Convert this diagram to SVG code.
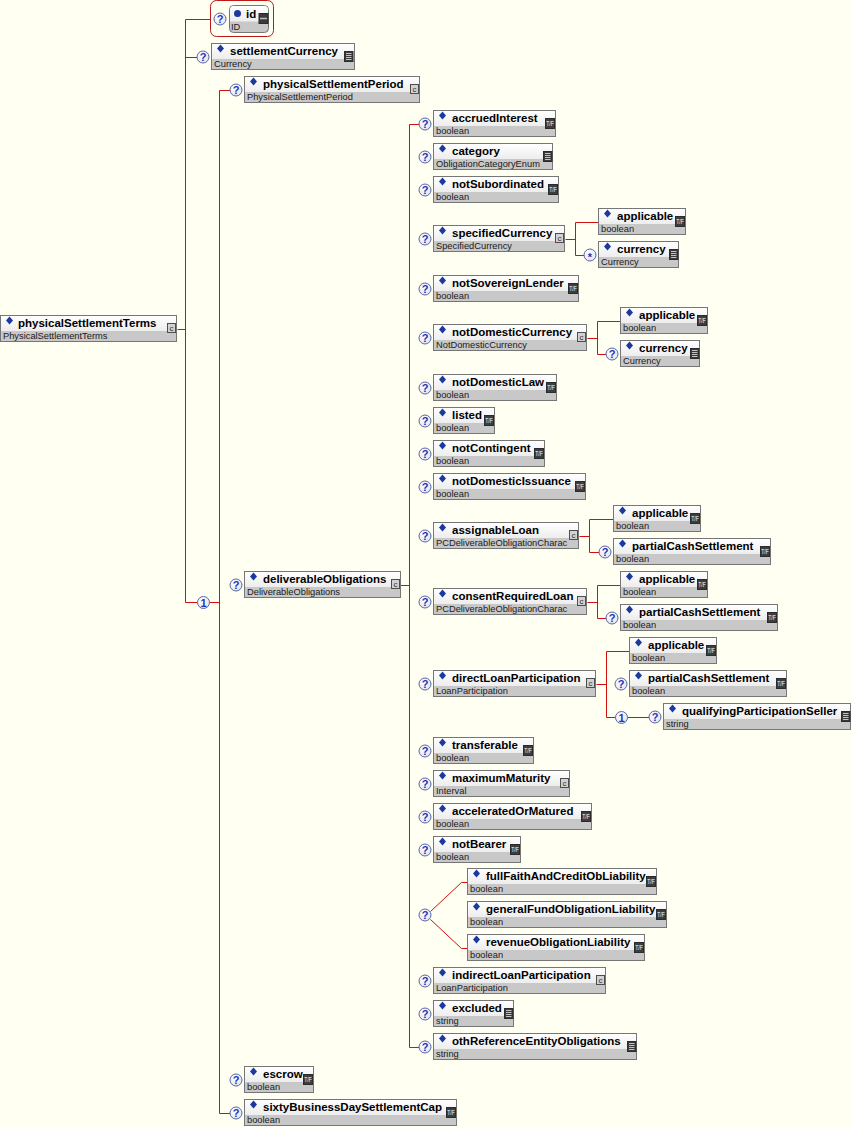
<svg xmlns="http://www.w3.org/2000/svg" xmlns:xlink="http://www.w3.org/1999/xlink" width="852" height="1127" viewBox="0 0 852 1127">
<style>
  .bx{fill:#c8c8c8;stroke:#767676;stroke-width:1}
  .hd{fill:url(#gHd)}
  .dm{fill:#1b3a9c}
  .nm{font-family:"Liberation Sans",Arial,sans-serif;font-weight:bold;font-size:11.5px;fill:#000}
  .ty{font-family:"Liberation Sans",Arial,sans-serif;font-size:9.3px;fill:#1a1a1a}
  .ln{fill:none;stroke:#d01010;stroke-width:1}
  .qc{fill:url(#gQ);stroke:#5a68a6;stroke-width:1}
  .qt{font-family:"Liberation Sans",Arial,sans-serif;font-weight:bold;font-size:11px;fill:#1f33b8;text-anchor:middle}
  .ic{font-family:"Liberation Sans",Arial,sans-serif;font-size:7px;fill:#ffffff;text-anchor:middle}
  .icc{font-family:"Liberation Sans",Arial,sans-serif;font-size:8px;fill:#303030;text-anchor:middle}
</style>
<defs>
  <linearGradient id="gHd" x1="0" y1="0" x2="0" y2="1">
    <stop offset="0" stop-color="#ffffff"/>
    <stop offset="1" stop-color="#ededed"/>
  </linearGradient>
  <radialGradient id="gQ" cx="0.4" cy="0.35" r="0.7">
    <stop offset="0" stop-color="#ffffff"/>
    <stop offset="1" stop-color="#dfe3f0"/>
  </radialGradient>
  <!-- occurrence markers -->
  <g id="q"><circle class="qc" r="6"/><text class="qt" y="4">?</text></g>
  <g id="one"><circle class="qc" r="6"/><text class="qt" y="4">1</text></g>
  <g id="star"><circle class="qc" r="6"/><text class="qt" y="5.5">*</text></g>
  <!-- type icons -->
  <g id="iTF"><rect x=".5" y=".5" width="9" height="10" fill="#3d3d3d" stroke="#2b2b2b"/><text class="ic" x="5" y="8" textLength="7.5" lengthAdjust="spacingAndGlyphs">T/F</text></g>
  <g id="iEn"><rect x=".5" y=".5" width="8.5" height="10" fill="#3a3a3a" stroke="#2b2b2b"/><path d="M2 2.5H7.5M2 4.5H7.5M2 6.5H7.5M2 8.5H7.5" stroke="#e6e6e6" stroke-width="0.8"/></g>
  <g id="iCx"><rect x=".5" y=".5" width="8" height="9" fill="#d2d2d2" stroke="#4d4d4d"/><text class="icc" x="4.5" y="7.5">c</text></g>
  <g id="iId"><rect x=".5" y=".5" width="9" height="10" fill="#3a3a3a" stroke="#2a2a2a"/><path d="M1.5 5.5H8.5" stroke="#bdbdbd" stroke-width="1.5"/></g>
  <path id="dm" class="dm" d="M9.5 1.5 13 5.5 9.5 9.5 6 5.5z"/>
</defs>

<rect x="0" y="0" width="852" height="1127" fill="#fffff2"/>

<!-- connectors (offset half a pixel so 1px strokes land on the pixel grid) -->
<g id="connectors" transform="translate(0.5,0.5)">
  <path class="ln" d="M177 329H185M185 19V602M185 19H210M185 57H197M185 602H197M209 602H219M219 90V1113M219 90H230M219 1113H230"/>
  <path class="ln" d="M400 585H409M409 124V1047M409 124H419M409 1047H419"/>
  <path class="ln" d="M565 239H575M575 222V255M575 222H598M575 255H584"/>
  <path class="ln" d="M587 338H597M597 321V354M597 321H620M597 354H606"/>
  <path class="ln" d="M579 536H589M589 519V552M589 519H613M589 552H599"/>
  <path class="ln" d="M587 602H597M597 585V618M597 585H620M597 618H606"/>
  <path class="ln" d="M596 684H606M606 651V717M606 651H629M606 717H615M627 717H649"/>
  <path class="ln" d="M430 911L461 882H467M430 919L461 948H467"/>
</g>

<!-- attribute id -->
<g id="n-id">
  <rect x="210.5" y="0.5" width="63" height="36" rx="6" fill="none" stroke="#c01818"/>
  <use href="#q" x="220" y="19"/>
  <g transform="translate(229,5)">
    <rect class="bx" x=".5" y=".5" width="39" height="27" rx="4"/>
    <path class="hd" d="M1 16.5V4.5Q1 1 4.5 1H35.5Q39 1 39 4.5V16.5Z"/>
    <circle cx="8.5" cy="8.5" r="3.5" fill="#1b3a9c"/>
    <text class="nm" x="17" y="13">id</text>
    <text class="ty" x="2" y="25">ID</text>
    <use href="#iId" x="29.5" y="8"/>
  </g>
</g>

<!-- root -->
<g id="n-physicalSettlementTerms" transform="translate(0,315)">
  <rect class="bx" x=".5" y=".5" width="176" height="26"/><rect class="hd" x="1" y="1" width="175" height="15"/>
  <use href="#dm"/>
  <text class="nm" x="18" y="12">physicalSettlementTerms</text><text class="ty" x="3" y="24">PhysicalSettlementTerms</text>
  <use href="#iCx" x="167" y="8"/>
</g>

<g id="n-settlementCurrency" transform="translate(211,43)">
  <use href="#q" x="-8" y="14"/>
  <rect class="bx" x=".5" y=".5" width="143" height="26"/><rect class="hd" x="1" y="1" width="142" height="15"/>
  <use href="#dm"/>
  <text class="nm" x="19" y="12">settlementCurrency</text><text class="ty" x="3" y="24">Currency</text>
  <use href="#iEn" x="133" y="8"/>
</g>

<g id="n-physicalSettlementPeriod" transform="translate(244,76)">
  <use href="#q" x="-8" y="14"/>
  <rect class="bx" x=".5" y=".5" width="175" height="26"/><rect class="hd" x="1" y="1" width="174" height="15"/>
  <use href="#dm"/>
  <text class="nm" x="19" y="12">physicalSettlementPeriod</text><text class="ty" x="3" y="24">PhysicalSettlementPeriod</text>
  <use href="#iCx" x="166" y="8"/>
</g>

<g id="choice-main"><use href="#one" x="203.5" y="602.5"/></g>

<g id="n-deliverableObligations" transform="translate(244,571)">
  <use href="#q" x="-8" y="14"/>
  <rect class="bx" x=".5" y=".5" width="156" height="26"/><rect class="hd" x="1" y="1" width="155" height="15"/>
  <use href="#dm"/>
  <text class="nm" x="19" y="12">deliverableObligations</text><text class="ty" x="3" y="24">DeliverableObligations</text>
  <use href="#iCx" x="147" y="8"/>
</g>

<g id="n-escrow" transform="translate(244,1066)">
  <use href="#q" x="-8" y="14"/>
  <rect class="bx" x=".5" y=".5" width="69" height="26"/><rect class="hd" x="1" y="1" width="68" height="15"/>
  <use href="#dm"/>
  <text class="nm" x="19" y="12">escrow</text><text class="ty" x="3" y="24">boolean</text>
  <use href="#iTF" x="59" y="8"/>
</g>

<g id="n-sixtyBusinessDaySettlementCap" transform="translate(244,1099)">
  <use href="#q" x="-8" y="14"/>
  <rect class="bx" x=".5" y=".5" width="212" height="26"/><rect class="hd" x="1" y="1" width="211" height="15"/>
  <use href="#dm"/>
  <text class="nm" x="19" y="12">sixtyBusinessDaySettlementCap</text><text class="ty" x="3" y="24">boolean</text>
  <use href="#iTF" x="202" y="8"/>
</g>

<!-- deliverableObligations content -->
<g id="n-accruedInterest" transform="translate(433,110)">
  <use href="#q" x="-8" y="14"/>
  <rect class="bx" x=".5" y=".5" width="122" height="26"/><rect class="hd" x="1" y="1" width="121" height="15"/>
  <use href="#dm"/>
  <text class="nm" x="19" y="12">accruedInterest</text><text class="ty" x="3" y="24">boolean</text>
  <use href="#iTF" x="112" y="8"/>
</g>

<g id="n-category" transform="translate(433,143)">
  <use href="#q" x="-8" y="14"/>
  <rect class="bx" x=".5" y=".5" width="119" height="26"/><rect class="hd" x="1" y="1" width="118" height="15"/>
  <use href="#dm"/>
  <text class="nm" x="19" y="12">category</text><text class="ty" x="3" y="24">ObligationCategoryEnum</text>
  <use href="#iEn" x="110" y="8"/>
</g>

<g id="n-notSubordinated" transform="translate(433,176)">
  <use href="#q" x="-8" y="14"/>
  <rect class="bx" x=".5" y=".5" width="125" height="26"/><rect class="hd" x="1" y="1" width="124" height="15"/>
  <use href="#dm"/>
  <text class="nm" x="19" y="12">notSubordinated</text><text class="ty" x="3" y="24">boolean</text>
  <use href="#iTF" x="115" y="8"/>
</g>

<g id="n-specifiedCurrency" transform="translate(433,225)">
  <use href="#q" x="-8" y="14"/>
  <rect class="bx" x=".5" y=".5" width="131" height="26"/><rect class="hd" x="1" y="1" width="130" height="15"/>
  <use href="#dm"/>
  <text class="nm" x="19" y="12">specifiedCurrency</text><text class="ty" x="3" y="24">SpecifiedCurrency</text>
  <use href="#iCx" x="122" y="8"/>
</g>
<g id="n-specifiedCurrency-applicable" transform="translate(598,208)">
  <rect class="bx" x=".5" y=".5" width="87" height="26"/><rect class="hd" x="1" y="1" width="86" height="15"/>
  <use href="#dm"/>
  <text class="nm" x="19" y="12">applicable</text><text class="ty" x="3" y="24">boolean</text>
  <use href="#iTF" x="77" y="8"/>
</g>
<g id="n-specifiedCurrency-currency" transform="translate(598,241)">
  <use href="#star" x="-8" y="14"/>
  <rect class="bx" x=".5" y=".5" width="80" height="26"/><rect class="hd" x="1" y="1" width="79" height="15"/>
  <use href="#dm"/>
  <text class="nm" x="19" y="12">currency</text><text class="ty" x="3" y="24">Currency</text>
  <use href="#iEn" x="71" y="8"/>
</g>

<g id="n-notSovereignLender" transform="translate(433,275)">
  <use href="#q" x="-8" y="14"/>
  <rect class="bx" x=".5" y=".5" width="145" height="26"/><rect class="hd" x="1" y="1" width="144" height="15"/>
  <use href="#dm"/>
  <text class="nm" x="19" y="12">notSovereignLender</text><text class="ty" x="3" y="24">boolean</text>
  <use href="#iTF" x="135" y="8"/>
</g>

<g id="n-notDomesticCurrency" transform="translate(433,324)">
  <use href="#q" x="-8" y="14"/>
  <rect class="bx" x=".5" y=".5" width="153" height="26"/><rect class="hd" x="1" y="1" width="152" height="15"/>
  <use href="#dm"/>
  <text class="nm" x="19" y="12">notDomesticCurrency</text><text class="ty" x="3" y="24">NotDomesticCurrency</text>
  <use href="#iCx" x="144" y="8"/>
</g>
<g id="n-notDomesticCurrency-applicable" transform="translate(620,307)">
  <rect class="bx" x=".5" y=".5" width="87" height="26"/><rect class="hd" x="1" y="1" width="86" height="15"/>
  <use href="#dm"/>
  <text class="nm" x="19" y="12">applicable</text><text class="ty" x="3" y="24">boolean</text>
  <use href="#iTF" x="77" y="8"/>
</g>
<g id="n-notDomesticCurrency-currency" transform="translate(620,340)">
  <use href="#q" x="-8" y="14"/>
  <rect class="bx" x=".5" y=".5" width="79" height="26"/><rect class="hd" x="1" y="1" width="78" height="15"/>
  <use href="#dm"/>
  <text class="nm" x="19" y="12">currency</text><text class="ty" x="3" y="24">Currency</text>
  <use href="#iEn" x="70" y="8"/>
</g>

<g id="n-notDomesticLaw" transform="translate(433,374)">
  <use href="#q" x="-8" y="14"/>
  <rect class="bx" x=".5" y=".5" width="123" height="26"/><rect class="hd" x="1" y="1" width="122" height="15"/>
  <use href="#dm"/>
  <text class="nm" x="19" y="12">notDomesticLaw</text><text class="ty" x="3" y="24">boolean</text>
  <use href="#iTF" x="113" y="8"/>
</g>

<g id="n-listed" transform="translate(433,407)">
  <use href="#q" x="-8" y="14"/>
  <rect class="bx" x=".5" y=".5" width="61" height="26"/><rect class="hd" x="1" y="1" width="60" height="15"/>
  <use href="#dm"/>
  <text class="nm" x="19" y="12">listed</text><text class="ty" x="3" y="24">boolean</text>
  <use href="#iTF" x="51" y="8"/>
</g>

<g id="n-notContingent" transform="translate(433,440)">
  <use href="#q" x="-8" y="14"/>
  <rect class="bx" x=".5" y=".5" width="111" height="26"/><rect class="hd" x="1" y="1" width="110" height="15"/>
  <use href="#dm"/>
  <text class="nm" x="19" y="12">notContingent</text><text class="ty" x="3" y="24">boolean</text>
  <use href="#iTF" x="101" y="8"/>
</g>

<g id="n-notDomesticIssuance" transform="translate(433,473)">
  <use href="#q" x="-8" y="14"/>
  <rect class="bx" x=".5" y=".5" width="152" height="26"/><rect class="hd" x="1" y="1" width="151" height="15"/>
  <use href="#dm"/>
  <text class="nm" x="19" y="12">notDomesticIssuance</text><text class="ty" x="3" y="24">boolean</text>
  <use href="#iTF" x="142" y="8"/>
</g>

<g id="n-assignableLoan" transform="translate(433,522)">
  <use href="#q" x="-8" y="14"/>
  <rect class="bx" x=".5" y=".5" width="145" height="26"/><rect class="hd" x="1" y="1" width="144" height="15"/>
  <use href="#dm"/>
  <text class="nm" x="19" y="12">assignableLoan</text><text class="ty" x="3" y="24">PCDeliverableObligationCharac</text>
  <use href="#iCx" x="136" y="8"/>
</g>
<g id="n-assignableLoan-applicable" transform="translate(613,505)">
  <rect class="bx" x=".5" y=".5" width="87" height="26"/><rect class="hd" x="1" y="1" width="86" height="15"/>
  <use href="#dm"/>
  <text class="nm" x="19" y="12">applicable</text><text class="ty" x="3" y="24">boolean</text>
  <use href="#iTF" x="77" y="8"/>
</g>
<g id="n-assignableLoan-partialCashSettlement" transform="translate(613,538)">
  <use href="#q" x="-8" y="14"/>
  <rect class="bx" x=".5" y=".5" width="157" height="26"/><rect class="hd" x="1" y="1" width="156" height="15"/>
  <use href="#dm"/>
  <text class="nm" x="19" y="12">partialCashSettlement</text><text class="ty" x="3" y="24">boolean</text>
  <use href="#iTF" x="147" y="8"/>
</g>

<g id="n-consentRequiredLoan" transform="translate(433,588)">
  <use href="#q" x="-8" y="14"/>
  <rect class="bx" x=".5" y=".5" width="153" height="26"/><rect class="hd" x="1" y="1" width="152" height="15"/>
  <use href="#dm"/>
  <text class="nm" x="19" y="12">consentRequiredLoan</text><text class="ty" x="3" y="24">PCDeliverableObligationCharac</text>
  <use href="#iCx" x="144" y="8"/>
</g>
<g id="n-consentRequiredLoan-applicable" transform="translate(620,571)">
  <rect class="bx" x=".5" y=".5" width="87" height="26"/><rect class="hd" x="1" y="1" width="86" height="15"/>
  <use href="#dm"/>
  <text class="nm" x="19" y="12">applicable</text><text class="ty" x="3" y="24">boolean</text>
  <use href="#iTF" x="77" y="8"/>
</g>
<g id="n-consentRequiredLoan-partialCashSettlement" transform="translate(620,604)">
  <use href="#q" x="-8" y="14"/>
  <rect class="bx" x=".5" y=".5" width="157" height="26"/><rect class="hd" x="1" y="1" width="156" height="15"/>
  <use href="#dm"/>
  <text class="nm" x="19" y="12">partialCashSettlement</text><text class="ty" x="3" y="24">boolean</text>
  <use href="#iTF" x="147" y="8"/>
</g>

<g id="n-directLoanParticipation" transform="translate(433,670)">
  <use href="#q" x="-8" y="14"/>
  <rect class="bx" x=".5" y=".5" width="162" height="26"/><rect class="hd" x="1" y="1" width="161" height="15"/>
  <use href="#dm"/>
  <text class="nm" x="19" y="12">directLoanParticipation</text><text class="ty" x="3" y="24">LoanParticipation</text>
  <use href="#iCx" x="153" y="8"/>
</g>
<g id="n-directLoanParticipation-applicable" transform="translate(629,637)">
  <rect class="bx" x=".5" y=".5" width="87" height="26"/><rect class="hd" x="1" y="1" width="86" height="15"/>
  <use href="#dm"/>
  <text class="nm" x="19" y="12">applicable</text><text class="ty" x="3" y="24">boolean</text>
  <use href="#iTF" x="77" y="8"/>
</g>
<g id="n-directLoanParticipation-partialCashSettlement" transform="translate(629,670)">
  <use href="#q" x="-8" y="14"/>
  <rect class="bx" x=".5" y=".5" width="157" height="26"/><rect class="hd" x="1" y="1" width="156" height="15"/>
  <use href="#dm"/>
  <text class="nm" x="19" y="12">partialCashSettlement</text><text class="ty" x="3" y="24">boolean</text>
  <use href="#iTF" x="147" y="8"/>
</g>
<g id="choice-seller"><use href="#one" x="621.5" y="717.5"/></g>
<g id="n-qualifyingParticipationSeller" transform="translate(663,703)">
  <use href="#q" x="-8" y="14"/>
  <rect class="bx" x=".5" y=".5" width="187" height="26"/><rect class="hd" x="1" y="1" width="186" height="15"/>
  <use href="#dm"/>
  <text class="nm" x="19" y="12">qualifyingParticipationSeller</text><text class="ty" x="3" y="24">string</text>
  <use href="#iEn" x="178" y="8"/>
</g>

<g id="n-transferable" transform="translate(433,737)">
  <use href="#q" x="-8" y="14"/>
  <rect class="bx" x=".5" y=".5" width="100" height="26"/><rect class="hd" x="1" y="1" width="99" height="15"/>
  <use href="#dm"/>
  <text class="nm" x="19" y="12">transferable</text><text class="ty" x="3" y="24">boolean</text>
  <use href="#iTF" x="90" y="8"/>
</g>

<g id="n-maximumMaturity" transform="translate(433,770)">
  <use href="#q" x="-8" y="14"/>
  <rect class="bx" x=".5" y=".5" width="136" height="26"/><rect class="hd" x="1" y="1" width="135" height="15"/>
  <use href="#dm"/>
  <text class="nm" x="19" y="12">maximumMaturity</text><text class="ty" x="3" y="24">Interval</text>
  <use href="#iCx" x="127" y="8"/>
</g>

<g id="n-acceleratedOrMatured" transform="translate(433,803)">
  <use href="#q" x="-8" y="14"/>
  <rect class="bx" x=".5" y=".5" width="158" height="26"/><rect class="hd" x="1" y="1" width="157" height="15"/>
  <use href="#dm"/>
  <text class="nm" x="19" y="12">acceleratedOrMatured</text><text class="ty" x="3" y="24">boolean</text>
  <use href="#iTF" x="148" y="8"/>
</g>

<g id="n-notBearer" transform="translate(433,836)">
  <use href="#q" x="-8" y="14"/>
  <rect class="bx" x=".5" y=".5" width="87" height="26"/><rect class="hd" x="1" y="1" width="86" height="15"/>
  <use href="#dm"/>
  <text class="nm" x="19" y="12">notBearer</text><text class="ty" x="3" y="24">boolean</text>
  <use href="#iTF" x="77" y="8"/>
</g>

<g id="group-liability"><use href="#q" x="425" y="915"/></g>
<g id="n-fullFaithAndCreditObLiability" transform="translate(467,868)">
  <rect class="bx" x=".5" y=".5" width="189" height="26"/><rect class="hd" x="1" y="1" width="188" height="15"/>
  <use href="#dm"/>
  <text class="nm" x="19" y="12">fullFaithAndCreditObLiability</text><text class="ty" x="3" y="24">boolean</text>
  <use href="#iTF" x="179" y="8"/>
</g>
<g id="n-generalFundObligationLiability" transform="translate(467,901)">
  <rect class="bx" x=".5" y=".5" width="199" height="26"/><rect class="hd" x="1" y="1" width="198" height="15"/>
  <use href="#dm"/>
  <text class="nm" x="19" y="12">generalFundObligationLiability</text><text class="ty" x="3" y="24">boolean</text>
  <use href="#iTF" x="189" y="8"/>
</g>
<g id="n-revenueObligationLiability" transform="translate(467,934)">
  <rect class="bx" x=".5" y=".5" width="177" height="26"/><rect class="hd" x="1" y="1" width="176" height="15"/>
  <use href="#dm"/>
  <text class="nm" x="19" y="12">revenueObligationLiability</text><text class="ty" x="3" y="24">boolean</text>
  <use href="#iTF" x="167" y="8"/>
</g>

<g id="n-indirectLoanParticipation" transform="translate(433,967)">
  <use href="#q" x="-8" y="14"/>
  <rect class="bx" x=".5" y=".5" width="172" height="26"/><rect class="hd" x="1" y="1" width="171" height="15"/>
  <use href="#dm"/>
  <text class="nm" x="19" y="12">indirectLoanParticipation</text><text class="ty" x="3" y="24">LoanParticipation</text>
  <use href="#iCx" x="163" y="8"/>
</g>

<g id="n-excluded" transform="translate(433,1000)">
  <use href="#q" x="-8" y="14"/>
  <rect class="bx" x=".5" y=".5" width="80" height="26"/><rect class="hd" x="1" y="1" width="79" height="15"/>
  <use href="#dm"/>
  <text class="nm" x="19" y="12">excluded</text><text class="ty" x="3" y="24">string</text>
  <use href="#iEn" x="71" y="8"/>
</g>

<g id="n-othReferenceEntityObligations" transform="translate(433,1033)">
  <use href="#q" x="-8" y="14"/>
  <rect class="bx" x=".5" y=".5" width="203" height="26"/><rect class="hd" x="1" y="1" width="202" height="15"/>
  <use href="#dm"/>
  <text class="nm" x="19" y="12">othReferenceEntityObligations</text><text class="ty" x="3" y="24">string</text>
  <use href="#iEn" x="194" y="8"/>
</g>
</svg>
